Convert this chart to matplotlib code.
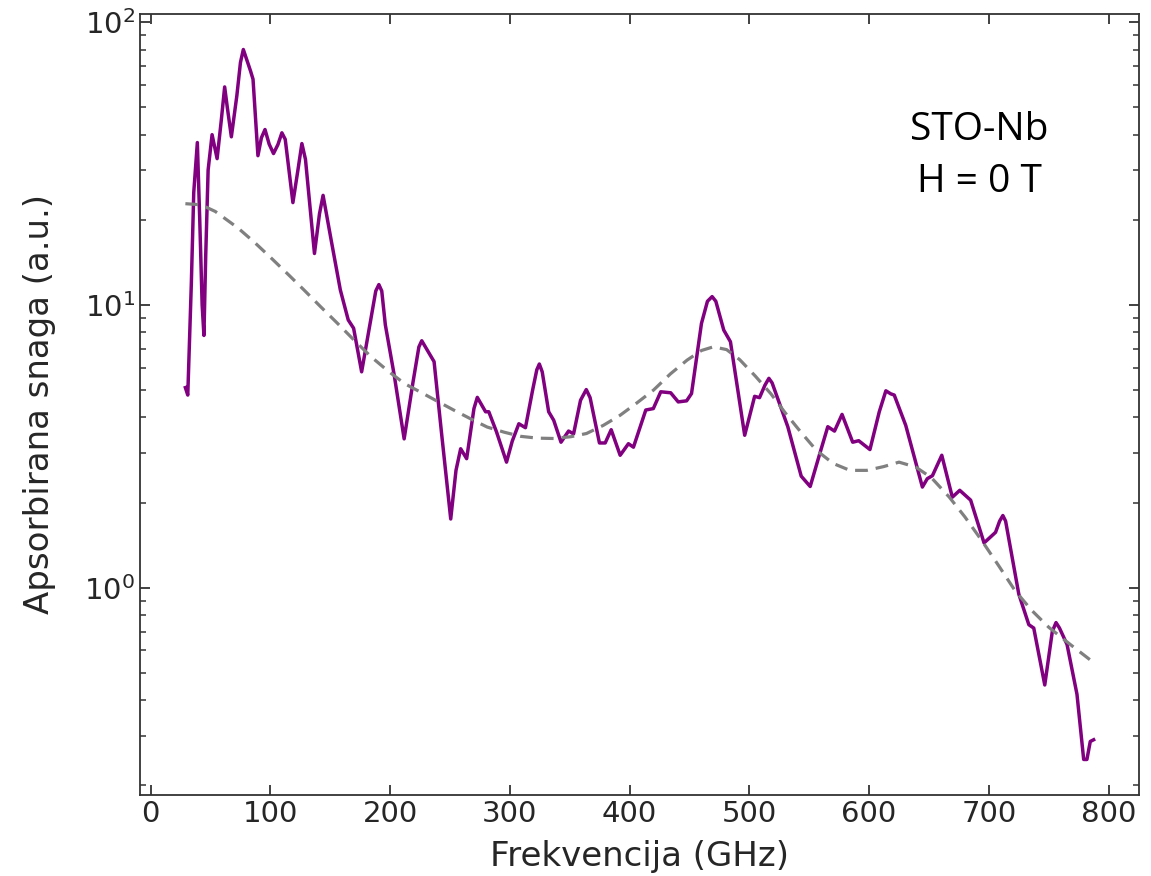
import numpy as np
import matplotlib.pyplot as plt

# measured absorbed power vs frequency (STO-Nb, zero field)
freq = [29, 31, 34, 36, 39, 41, 43, 44.5, 46, 48, 51.3, 53, 55.5, 59, 61.8, 64, 67.4, 72, 75, 77.4, 81,
        83.5, 85.5, 89.6, 92.5, 95.5, 99, 102.6, 106.3, 109.6, 112.4, 118.8, 123, 126.3, 129.3, 136.8,
        141, 144, 150.7, 158.4, 165, 169.5, 176.2, 183, 188, 190.6, 193, 196, 203.4, 211.7, 219,
        224, 226.4, 233.4, 236.7, 243, 250.6, 255, 258.9, 263.9, 270, 272.8, 279.7, 282.4, 288.8,
        297.2, 302, 307.5, 313, 319, 322.5, 324.6, 327, 332.4, 336.6, 342.7, 349, 353.2, 359, 363.8,
        367, 374.8, 379.6, 384.6, 392.1, 399, 403.2, 413.5, 419.8, 426, 434.3, 440.6, 447.6, 451.7,
        460, 465, 468.9, 472, 478.6, 484.2, 496.1, 504.4, 508.5, 513, 516.3, 519, 532.1, 543.3,
        550.8, 558, 565.5, 571.1, 577.4, 586.3, 591.3, 600.7, 608.5, 614, 618, 621, 630.6, 644.5,
        648.6, 652.9, 660.7, 669.5, 675.7, 684.8, 696, 705.6, 709, 711.7, 714, 725, 733.4, 737.5,
        746.7, 753, 756.1, 759, 765.3, 773.6, 779.2, 781.9, 784.7, 787.5]
power = [5.1, 4.8, 12, 25, 37.5, 20, 10, 7.8, 15, 30, 40, 37, 32.9, 45, 59, 50, 39.3, 55, 72, 80, 72,
         67, 62.8, 33.7, 39, 41.7, 37, 34.3, 36.9, 40.6, 38.5, 23, 30, 37.2, 32.7, 15.2,
         21, 24.4, 17, 11.3, 8.85, 8.27, 5.8, 8.5, 11.2, 11.8, 11.2, 8.5, 5.65, 3.36, 5.3,
         7.1, 7.47, 6.65, 6.3, 3.5, 1.75, 2.6, 3.1, 2.86, 4.3, 4.71, 4.19, 4.19, 3.56,
         2.78, 3.3, 3.8, 3.68, 5, 5.9, 6.18, 5.8, 4.19, 3.91, 3.27, 3.58, 3.5, 4.6, 5.02,
         4.7, 3.25, 3.25, 3.62, 2.94, 3.23, 3.14, 4.25, 4.3, 4.93, 4.89, 4.54, 4.58, 4.86,
         8.6, 10.3, 10.7, 10.3, 8.15, 7.41, 3.46, 4.75, 4.7, 5.2, 5.5, 5.3, 3.71, 2.48,
         2.28, 2.9, 3.71, 3.58, 4.1, 3.27, 3.31, 3.08, 4.19, 4.97, 4.85, 4.8, 3.75, 2.27,
         2.43, 2.49, 2.94, 2.09, 2.21, 2.04, 1.44, 1.57, 1.72, 1.8, 1.72, 0.95, 0.74, 0.72,
         0.453, 0.7, 0.753, 0.72, 0.63, 0.42, 0.247, 0.247, 0.286, 0.29]

# smooth fit
fit_freq = [29, 42, 54, 73, 87, 101, 115, 128, 142, 156, 170, 184, 198, 212, 226, 240, 253, 267,
            281, 295, 309, 323, 337, 351, 364, 378, 392, 406, 420, 434, 448, 460, 470, 481, 492,
            505, 518, 530, 543, 556, 570, 584, 598, 612, 625, 639, 652, 667, 680, 694, 708, 722,
            736, 750, 768, 786]
fit_power = [22.8, 22.6, 21.4, 18.7, 16.6, 14.6, 12.8, 11.3, 9.85, 8.61, 7.5, 6.56, 5.85, 5.27,
             4.9, 4.55, 4.25, 3.96, 3.7, 3.55, 3.43, 3.38, 3.37, 3.42, 3.51, 3.75, 4.07, 4.5, 5.0,
             5.7, 6.38, 6.9, 7.11, 6.95, 6.4, 5.6, 4.85, 4.15, 3.55, 3.06, 2.75, 2.6, 2.6, 2.68,
             2.78, 2.67, 2.45, 2.09, 1.78, 1.47, 1.2, 0.975, 0.83, 0.725, 0.63, 0.55]

fig = plt.figure(figsize=(11.51, 8.76), dpi=100)
ax = fig.add_subplot(111)
fig.subplots_adjust(left=0.1216, right=0.9896, top=0.984, bottom=0.0925)

ax.plot(freq, power, color='purple', lw=2.5, solid_joinstyle='round')
ax.plot(fit_freq, fit_power, color='gray', lw=2.3, ls=(0, (4, 2.5)))
ax.set_yscale('log')

ax.set_xlabel('Frekvencija (GHz)', fontsize=24.5, color='#262626', labelpad=9)
ax.set_ylabel('Apsorbirana snaga (a.u.)', fontsize=24.5, color='#262626', labelpad=20)
ax.tick_params(which='both', direction='in', top=True, right=True, labelsize=21,
               labelcolor='#262626', color='#333333')
ax.tick_params(which='major', length=7, width=1.3)
ax.tick_params(which='minor', length=4, width=1.1)
for s in ax.spines.values():
    s.set_color('#333333')
    s.set_linewidth(1.3)

ax.text(0.84, 0.818, 'STO-Nb\nH = 0 T', transform=ax.transAxes, ha='center', va='center',
        fontsize=28, family='Open Sans', linespacing=1.5)

fig.savefig('out.png')
